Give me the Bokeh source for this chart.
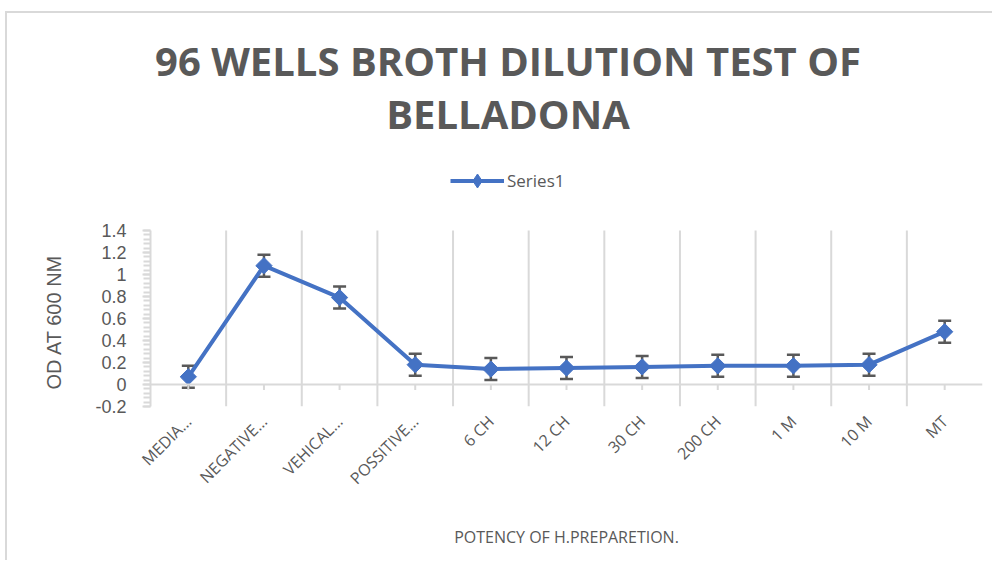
import numpy as np
from bokeh.plotting import figure
from bokeh.models import (ColumnDataSource, Range1d, FixedTicker, Whisker, TeeHead,
                          Span, Label, Title, Legend, LegendItem, PrintfTickFormatter)
from bokeh.embed import file_html
from bokeh.resources import INLINE

# ---- data ----
categories = ["MEDIA…", "NEGATIVE…", "VEHICAL…", "POSSITIVE…", "6 CH", "12 CH",
              "30 CH", "200 CH", "1 M", "10 M", "MT"]
od_values = [0.07, 1.08, 0.79, 0.18, 0.14, 0.15, 0.16, 0.17, 0.17, 0.18, 0.48]
od_error = [0.10, 0.10, 0.10, 0.10, 0.10, 0.10, 0.10, 0.10, 0.10, 0.10, 0.10]
y_ticks = [-0.2, 0, 0.2, 0.4, 0.6, 0.8, 1, 1.2, 1.4]
title_lines = ["96 WELLS BROTH DILUTION TEST OF", "BELLADONA"]
series_name = "Series1"
x_title = "POTENCY OF H.PREPARETION."
y_title = "OD AT 600 NM"

n = len(categories)
xpos = [i + 0.5 for i in range(n)]
bounds_x = list(range(1, n))
upper = [v + e for v, e in zip(od_values, od_error)]
lower = [v - e for v, e in zip(od_values, od_error)]
src = ColumnDataSource(dict(x=xpos, y=od_values, upper=upper, lower=lower))

GRAY = "#595959"
LIGHT = "#d9d9d9"
BLUE = "#4472C4"

# layout: plot area spans pixels 230..406 for the value axis; the frame is extended
# up to the top of the canvas so the title and legend can live inside it
FRAME_BOTTOM = 406
PLOT_TOP = 230
ymin, ymax = y_ticks[0], y_ticks[-1]
ytop = ymin + (ymax - ymin) * FRAME_BOTTOM / (FRAME_BOTTOM - PLOT_TOP)

p = figure(width=992, height=560, output_backend="svg", toolbar_location=None,
           x_range=Range1d(0, n), y_range=Range1d(ymin, ytop),
           min_border_left=150, min_border_right=10, min_border_top=0,
           min_border_bottom=560 - FRAME_BOTTOM, background_fill_alpha=0,
           border_fill_alpha=0, outline_line_color=None)
p.title = None
# chart border (outer frame of the chart area)
p.styles = {
    "background": ("linear-gradient(#d9d9d9,#d9d9d9) 5px 11px / 2px 100% no-repeat, "
                   "linear-gradient(#d9d9d9,#d9d9d9) 5px 11px / 100% 2px no-repeat, white"),
}

# x axis (category labels)
p.xaxis.ticker = FixedTicker(ticks=xpos)
p.xaxis.major_label_overrides = {x: c for x, c in zip(xpos, categories)}
p.xaxis.major_label_orientation = np.pi / 4
p.xaxis.axis_line_color = None
p.xaxis.major_tick_line_color = None
p.xaxis.minor_tick_line_color = None
p.xaxis.major_label_standoff = 6
p.xaxis.major_label_text_font = "Open Sans"
p.xaxis.major_label_text_font_size = "16px"
p.xaxis.major_label_text_color = GRAY
p.xaxis.axis_label = x_title
p.xaxis.axis_label_text_font = "Open Sans"
p.xaxis.axis_label_text_font_size = "16px"
p.xaxis.axis_label_text_font_style = "normal"
p.xaxis.axis_label_text_color = GRAY
p.xaxis.axis_label_standoff = 27

# vertical grid lines at category boundaries (only over the value range)
p.xgrid.grid_line_color = None
p.ygrid.grid_line_color = None
p.segment(x0=bounds_x, y0=[ymin] * len(bounds_x), x1=bounds_x, y1=[ymax] * len(bounds_x),
          line_color=LIGHT, line_width=2)

# y axis
minor = [round(ymin + 0.04 * k, 2) for k in range(int(round((ymax - ymin) / 0.04)) + 1)]
p.yaxis.ticker = FixedTicker(ticks=y_ticks, minor_ticks=minor)
p.yaxis.bounds = (ymin, ymax)
p.yaxis.formatter = PrintfTickFormatter(format="%.2g")
p.yaxis.axis_line_color = LIGHT
p.yaxis.axis_line_width = 2
p.yaxis.major_tick_line_color = LIGHT
p.yaxis.major_tick_line_width = 2
p.yaxis.minor_tick_line_color = LIGHT
p.yaxis.minor_tick_line_width = 2
p.yaxis.major_tick_in = 0
p.yaxis.major_tick_out = 8
p.yaxis.minor_tick_in = 0
p.yaxis.minor_tick_out = 7
p.yaxis.major_label_standoff = 16
p.yaxis.major_label_text_font = "Liberation Sans"
p.yaxis.major_label_text_font_size = "18px"
p.yaxis.major_label_text_color = GRAY

# y title, placed along the value range (not the extended frame)
p.add_layout(Title(text=y_title, align="left", offset=17, standoff=56,
                   text_font="Liberation Sans", text_font_size="20px",
                   text_font_style="normal", text_color=GRAY), "left")

# zero line with category tick marks
p.add_layout(Span(location=0, dimension="width", line_color=LIGHT, line_width=2))
p.segment(x0=xpos, y0=[0] * n, x1=xpos, y1=[-0.05] * n, line_color=LIGHT, line_width=2)

# series
line_r = p.line("x", "y", source=src, line_color=BLUE, line_width=4)
p.add_layout(Whisker(source=src, base="x", upper="upper", lower="lower",
                     line_color=GRAY, line_width=2.5,
                     upper_head=TeeHead(size=13, line_color=GRAY, line_width=2.5),
                     lower_head=TeeHead(size=13, line_color=GRAY, line_width=2.5)))
# diamond (used for the legend key; hidden beneath the rotated squares)
diam_r = p.scatter("x", "y", source=src, marker="diamond", size=14,
                   fill_color=BLUE, line_color=BLUE)
p.scatter("x", "y", source=src, marker="square", angle=np.pi / 4, size=11.5,
          fill_color=BLUE, line_color=BLUE)

legend = Legend(items=[LegendItem(label=series_name, renderers=[line_r, diam_r])],
                location=(300, 208), orientation="horizontal",
                border_line_color=None, background_fill_alpha=0,
                glyph_width=54, glyph_height=35, label_standoff=3, padding=0, margin=0,
                label_text_font="Open Sans", label_text_font_size="17px",
                label_text_color=GRAY)
p.add_layout(legend, "center")

# title (two lines)
for txt, yy in zip(title_lines, [FRAME_BOTTOM - 60, FRAME_BOTTOM - 113]):
    p.add_layout(Label(x=357.5, y=yy, x_units="screen", y_units="screen", text=txt,
                       text_align="center", text_baseline="middle",
                       text_font="Open Sans", text_font_size="40px",
                       text_font_style="bold", text_color=GRAY))

open("out.html", "w").write(file_html(p, INLINE))
